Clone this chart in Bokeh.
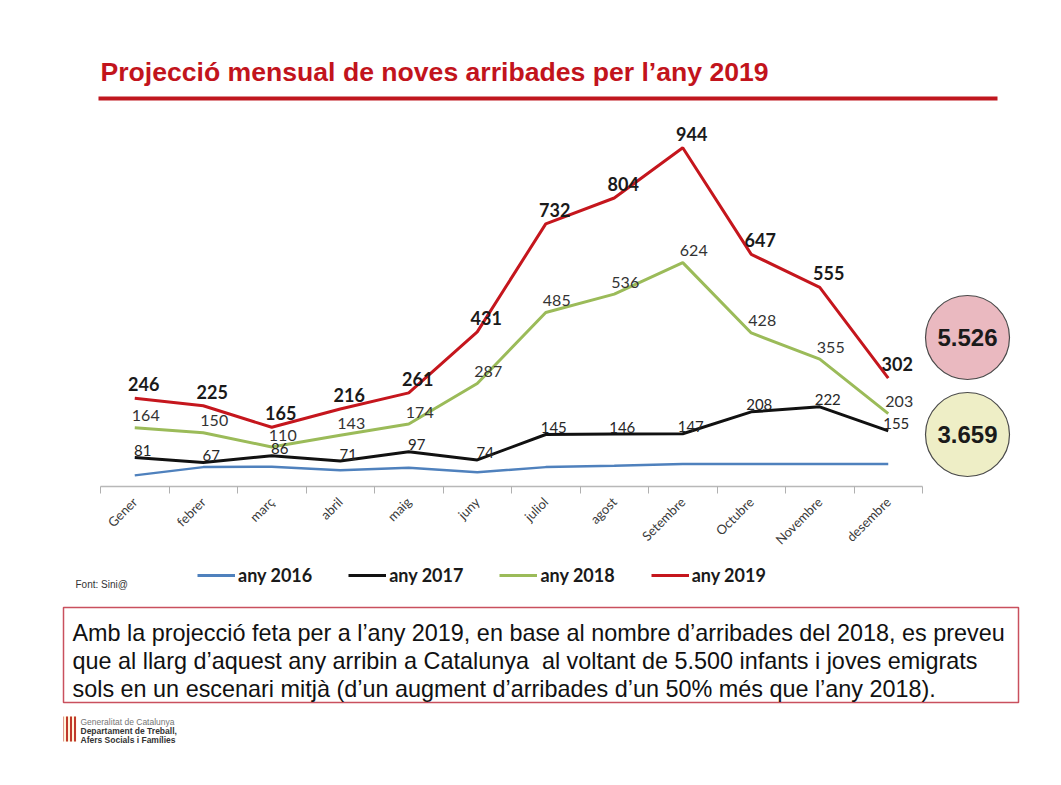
import math
from bokeh.plotting import figure
from bokeh.models import Range1d, FixedTicker, Label, BoxAnnotation, Legend, LegendItem
from bokeh.layouts import column
from bokeh.embed import file_html
from bokeh.resources import INLINE
from bokeh.core.properties import value

# ---------------- data ----------------
months = ["Gener", "febrer", "març", "abril", "maig", "juny", "juliol",
          "agost", "Setembre", "Octubre", "Novembre", "desembre"]
any_2016 = [31, 54, 55, 45, 52, 40, 54, 58, 63, 63, 63, 63]
any_2017 = [81, 67, 86, 71, 97, 74, 145, 146, 147, 208, 222, 155]
any_2018 = [164, 150, 110, 143, 174, 287, 485, 536, 624, 428, 355, 203]
any_2019 = [246, 225, 165, 216, 261, 431, 732, 804, 944, 647, 555, 302]
series_names = ["any 2016", "any 2017", "any 2018", "any 2019"]
series_colors = ["#4f81bd", "#111111", "#9bbb59", "#c5161d"]
total_2019 = "5.526"
total_2018 = "3.659"

title_text = "Projecció mensual de noves arribades per l\u2019any 2019"
source_text = "Font: Sini@"
note_lines = [
    "Amb la projecció feta per a l\u2019any 2019, en base al nombre d\u2019arribades del 2018, es preveu",
    "que al llarg d\u2019aquest any arribin a Catalunya\u00a0 al voltant de 5.500 infants i joves emigrats",
    "sols en un escenari mitjà (d\u2019un augment d\u2019arribades d\u2019un 50% més que l\u2019any 2018).",
]
logo_lines = ["Generalitat de Catalunya", "Departament de Treball,", "Afers Socials i Famílies"]

W = 1045
TOP_H, CHART_H = 120, 440
BOT_H = 769 - TOP_H - CHART_H
RED = "#c2141c"
LABEL_FONT = value("Lato")


def blank_fig(h):
    f = figure(width=W, height=h, x_range=Range1d(0, W), y_range=Range1d(h, 0),
               min_border=0, output_backend="svg", toolbar_location=None, title=None,
               x_axis_location=None, y_axis_location=None, outline_line_color=None)
    f.grid.visible = False
    f.frame_align = False
    return f


# ---------------- top: title + rule ----------------
top = blank_fig(TOP_H)
top.add_layout(Label(x=100, y=71, text=title_text, text_baseline="middle",
                     text_font="Liberation Sans", text_font_style="bold",
                     text_font_size="26.6px", text_color=RED))
top.add_layout(BoxAnnotation(left=98, right=997, top=96, bottom=100, fill_color="#c0171f",
                             fill_alpha=1, line_color=None))

# ---------------- chart ----------------
xs = list(range(len(months)))
BL, BR = 100, 5
frame_w = W - BL - BR
chart = figure(width=W, height=CHART_H,
               x_range=Range1d(-0.5, -0.5 + frame_w / 68.5), y_range=Range1d(0, 1020),
               min_border_left=BL, min_border_right=BR, min_border_top=0,
               min_border_bottom=CHART_H - 366,
               output_backend="svg", toolbar_location=None, title=None,
               y_axis_location=None, outline_line_color=None)
chart.grid.visible = False
chart.frame_align = False

ax = chart.xaxis[0]
ax.ticker = FixedTicker(ticks=xs, minor_ticks=[i - 0.5 for i in range(len(months) + 1)])
ax.bounds = (-0.5, len(months) - 0.5)
ax.major_label_overrides = {i: m for i, m in enumerate(months)}
ax.major_label_orientation = math.pi / 4
ax.major_tick_line_color = None
ax.major_tick_in = 0
ax.major_tick_out = 7
ax.minor_tick_in = 0
ax.minor_tick_out = 7
ax.minor_tick_line_color = "#b0b0b0"
ax.axis_line_color = "#b8b8b8"
ax.axis_line_width = 1.5
ax.major_label_text_font = "Lato"
ax.major_label_text_font_size = "13px"
ax.major_label_text_color = "#3a3a3a"
ax.major_label_standoff = 6

label_styles = [
    None,
    ("normal", "15px", "#262626", 8, -7),
    ("normal", "16px", "#333333", 11, -12),
    ("bold", "18px", "#1a1a1a", 9, -14),
]
widths = [2.5, 3, 3, 3]
all_series = [any_2016, any_2017, any_2018, any_2019]
for vals, color, lw in zip(all_series, series_colors, widths):
    chart.line(xs, vals, line_color=color, line_width=lw)
for vals, lab in zip(all_series, label_styles):
    if lab is None:
        continue
    style, size, tcolor, dx, dy = lab
    chart.text(xs, vals, text=[str(v) for v in vals], x_offset=dx, y_offset=dy,
               text_font=LABEL_FONT, text_font_style=style, text_font_size=size,
               text_color=tcolor, text_align="center", text_baseline="middle")

# total bubbles (screen units relative to the frame)
for (top_y, bot_y, fill, txt) in [(191, 107, "#eab9c0", total_2019), (94, 10, "#eeeec6", total_2018)]:
    chart.add_layout(BoxAnnotation(left=825, right=909, top=top_y, bottom=bot_y,
                                   left_units="screen", right_units="screen",
                                   top_units="screen", bottom_units="screen",
                                   fill_color=fill, fill_alpha=1, line_color="#4a4a4a",
                                   line_alpha=1, line_width=1.2, border_radius=42))
    chart.add_layout(Label(x=867, y=(top_y + bot_y) / 2, x_units="screen", y_units="screen",
                           text=txt, text_align="center", text_baseline="middle",
                           text_font="Liberation Sans", text_font_style="bold",
                           text_font_size="24px", text_color="#1a1a1a"))

# ---------------- bottom: legend, source, note box, logo ----------------
bot = blank_fig(BOT_H)
# legend entries: same series, not drawn in this panel (only their legend samples)
legend_rs = []
for vals, c in zip(all_series, series_colors):
    r = bot.line(xs, vals, line_color=c, line_width=3)
    r.visible = False
    legend_rs.append(r)
legend = Legend(items=[LegendItem(label=n, renderers=[r]) for n, r in zip(series_names, legend_rs)],
                orientation="horizontal", location=(197, BOT_H - 26), glyph_width=38,
                glyph_height=20, label_standoff=3, spacing=36, padding=0, margin=0,
                border_line_color=None, background_fill_alpha=0, label_text_font="Lato",
                label_text_font_style="bold", label_text_font_size="18px",
                label_text_color="#1a1a1a", label_text_baseline="middle",
                inactive_fill_alpha=0)
bot.add_layout(legend, "center")
bot.add_layout(Label(x=75, y=24, text=source_text, text_baseline="middle",
                     text_font="Liberation Sans", text_font_size="10px", text_color="#333333"))
bot.add_layout(BoxAnnotation(left=63, right=1018, top=47, bottom=142, fill_color="white",
                             fill_alpha=1, line_color="#c9505e", line_alpha=1, line_width=1.5))
for i, line in enumerate(note_lines):
    bot.add_layout(Label(x=72, y=72 + 28 * i, text=line, text_baseline="middle",
                         text_font="Liberation Sans", text_font_size="23.4px",
                         text_color="#111111"))
bot.quad(left=[63], right=[76], top=[156], bottom=[181], fill_color="#fff6dc", line_color=None,
         hatch_pattern="|", hatch_color="#c0392b", hatch_scale=4, hatch_weight=2)
for i, (line, st, col) in enumerate(zip(logo_lines, ["normal", "bold", "bold"],
                                        ["#777777", "#333333", "#333333"])):
    bot.add_layout(Label(x=80, y=161 + 9 * i, text=line, text_baseline="middle",
                         text_font="Liberation Sans", text_font_style=st,
                         text_font_size="8.5px", text_color=col))

page = column(top, chart, bot, spacing=0)
open("out.html", "w").write(file_html(page, INLINE))
